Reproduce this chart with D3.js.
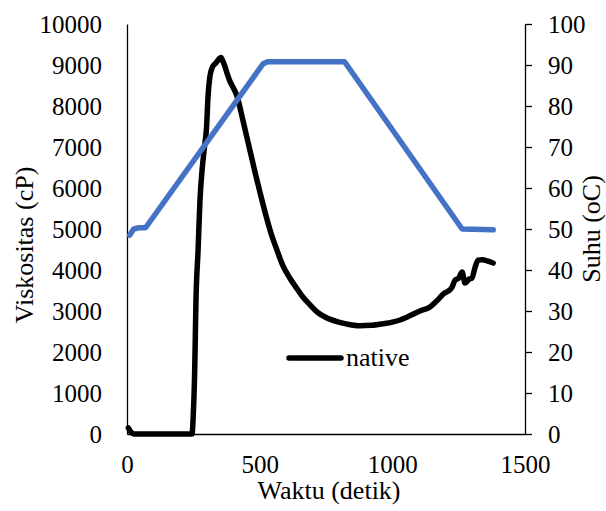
<!DOCTYPE html>
<meta charset="utf-8">
<style>
  body { margin: 0; background: #fff; }
  svg text { font-family: "Liberation Serif", "Times New Roman", Times, serif; fill: #000; }
</style>
<body>
<script src="https://d3js.org/d3.v7.min.js"></script>
<svg id="chart" width="606" height="511"></svg>
<script>
// viscosity (cP) over time (s)
var viscTime = [5, 15, 25, 245, 250, 255, 260, 268, 275, 283, 292, 300, 305, 312, 322, 335, 347, 354, 362, 370, 377, 388, 400, 414, 437, 464, 482, 501, 527, 545, 565, 588, 614, 640, 663, 690, 716, 750, 791, 830, 878, 920, 965, 1000, 1029, 1055, 1104, 1142, 1168, 1199, 1210, 1225, 1236, 1250, 1263, 1274, 1290, 1300, 1312, 1323, 1340, 1357, 1380];
var viscValue = [150, 50, 0, 0, 500, 1500, 3270, 4500, 5700, 6440, 7000, 7500, 8200, 8700, 8950, 9050, 9150, 9180, 9080, 8950, 8800, 8600, 8450, 8250, 7650, 6900, 6400, 5900, 5250, 4850, 4490, 4100, 3800, 3550, 3340, 3150, 2980, 2840, 2740, 2680, 2640, 2650, 2690, 2730, 2780, 2850, 3000, 3100, 3250, 3450, 3480, 3580, 3750, 3800, 3950, 3680, 3780, 3800, 4070, 4240, 4250, 4220, 4170];

// temperature (oC) over time (s)
var tempTime = [10, 25, 45, 70, 513, 530, 820, 1263, 1380];
var tempValue = [48.5, 50, 50.3, 50.3, 90.3, 90.8, 90.8, 50, 49.8];

var xTicks = [0, 500, 1000, 1500];
var leftTicks = d3.range(0, 10001, 1000);
var rightTicks = d3.range(0, 101, 10);

var svg = d3.select("#chart");

var plotLeft = 127, plotRight = 525, plotTop = 24, plotBottom = 434;

var x = d3.scaleLinear().domain([0, 1500]).range([plotLeft, plotRight]);
var yL = d3.scaleLinear().domain([0, 10000]).range([plotBottom, plotTop]);
var yR = d3.scaleLinear().domain([0, 100]).range([plotBottom, plotTop]);

// axes
var gx = svg.append("g")
    .attr("transform", "translate(0," + plotBottom + ")")
    .call(d3.axisBottom(x).tickValues(xTicks).tickSize(0).tickPadding(21).tickFormat(d3.format("d")));

var gl = svg.append("g")
    .attr("transform", "translate(" + plotLeft + ",0)")
    .call(d3.axisLeft(yL).tickValues(leftTicks).tickSize(0).tickPadding(25).tickFormat(d3.format("d")));

var gr = svg.append("g")
    .attr("transform", "translate(" + plotRight + ",0)")
    .call(d3.axisRight(yR).tickValues(rightTicks).tickSizeInner(7).tickSizeOuter(0).tickPadding(16).tickFormat(d3.format("d")));

[gx, gl, gr].forEach(function(g) {
  g.attr("font-family", null);
  g.selectAll("path, line").attr("stroke", "#000").attr("stroke-width", 1.3);
  g.selectAll("text").attr("font-size", 25).attr("fill", "#000");
});

// series
var viscData = viscTime.map(function(t, i) { return [t, viscValue[i]]; });
var tempData = tempTime.map(function(t, i) { return [t, tempValue[i]]; });

svg.append("path")
    .datum(viscData)
    .attr("fill", "none")
    .attr("stroke", "#000")
    .attr("stroke-width", 5.5)
    .attr("stroke-linejoin", "round")
    .attr("stroke-linecap", "round")
    .attr("d", d3.line().curve(d3.curveMonotoneX)
        .x(function(d) { return x(d[0]); })
        .y(function(d) { return yL(d[1]); }));

svg.append("path")
    .datum(tempData)
    .attr("fill", "none")
    .attr("stroke", "#4472C4")
    .attr("stroke-width", 5.5)
    .attr("stroke-linejoin", "round")
    .attr("stroke-linecap", "round")
    .attr("d", d3.line()
        .x(function(d) { return x(d[0]); })
        .y(function(d) { return yR(d[1]); }));

// axis titles
svg.append("text")
    .attr("x", (plotLeft + plotRight) / 2 + 3).attr("y", 499)
    .attr("text-anchor", "middle")
    .attr("font-size", 26)
    .text("Waktu (detik)");

svg.append("text")
    .attr("transform", "translate(33,245) rotate(-90)")
    .attr("text-anchor", "middle")
    .attr("font-size", 26)
    .text("Viskositas (cP)");

svg.append("text")
    .attr("transform", "translate(600,229) rotate(-90)")
    .attr("text-anchor", "middle")
    .attr("font-size", 26)
    .text("Suhu (oC)");

// legend
svg.append("line")
    .attr("x1", 289).attr("x2", 341)
    .attr("y1", 358).attr("y2", 358)
    .attr("stroke", "#000").attr("stroke-width", 5.5)
    .attr("stroke-linecap", "round");

svg.append("text")
    .attr("x", 346).attr("y", 366)
    .attr("font-size", 26)
    .text("native");
</script>
</body>
